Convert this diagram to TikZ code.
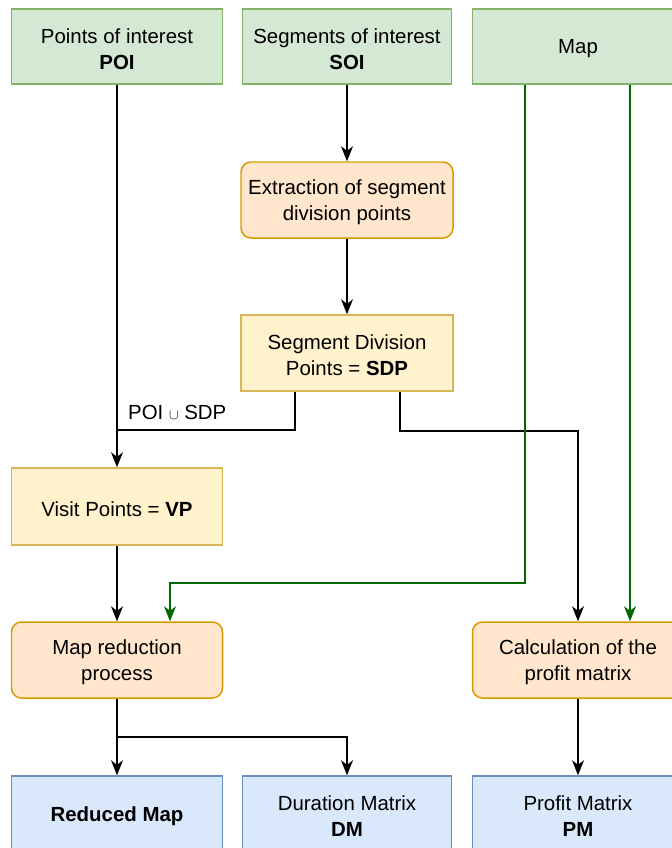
\documentclass[tikz,border=0pt]{standalone}
\usepackage{fontspec}
\setmainfont{Liberation Sans}
\usetikzlibrary{arrows.meta}
\definecolor{grnfill}{HTML}{D5E8D4}\definecolor{grnline}{HTML}{82B366}
\definecolor{orgfill}{HTML}{FFE6CC}\definecolor{orgline}{HTML}{D79B00}
\definecolor{ylwfill}{HTML}{FFF2CC}\definecolor{ylwline}{HTML}{D6B656}
\definecolor{blufill}{HTML}{DAE8FC}\definecolor{bluline}{HTML}{6C8EBF}
\definecolor{darkgrn}{HTML}{006600}
\begin{document}
\begin{tikzpicture}[x=1bp,y=-1bp,
  txt/.style={align=center,inner sep=0pt,yshift=-2.5bp,font=\fontsize{20.5}{26}\selectfont},
  box/.style={draw,line width=1.5pt,minimum width=211bp,minimum height=75bp,
    inner sep=0pt,label={[txt]center:#1}},
  inbox/.style={box={#1},fill=grnfill,draw=grnline},
  stepbox/.style={box={#1},fill=orgfill,draw=orgline,rounded corners=10pt,minimum height=76bp},
  databox/.style={box={#1},fill=ylwfill,draw=ylwline,minimum height=76bp},
  outbox/.style={box={#1},fill=blufill,draw=bluline},
  tip/.style={-{Stealth[length=15pt,width=12pt,inset=4.5pt]}},
  arr/.style={line width=1.7pt,tip},
  garr/.style={arr,draw=darkgrn},
  lnk/.style={line width=1.7pt}]
\useasboundingbox (0,0) rectangle (672,848);
\clip (0,0) rectangle (672,848);

% inputs
\node[inbox={Points of interest\\\textbf{POI}}] (poi) at (117,46.5) {};
\node[inbox={Segments of interest\\\textbf{SOI}},minimum width=209bp] (soi) at (347,46.5) {};
\node[inbox={Map}] (map) at (578,46.5) {};

% processing
\node[stepbox={Extraction of segment\\division points},minimum width=212bp] (ext) at (347,200) {};
\node[databox={Segment Division\\Points = \textbf{SDP}},minimum width=212bp] (sdp) at (347,353) {};
\node[databox={Visit Points = \textbf{VP}},minimum height=77bp] (vp) at (117,506.5) {};
\node[stepbox={Map reduction\\process}] (mred) at (117,660) {};
\node[stepbox={Calculation of the\\profit matrix}] (calc) at (578,660) {};

% outputs
\node[outbox={\textbf{Reduced Map}}] (rmap) at (117,813.5) {};
\node[outbox={Duration Matrix\\\textbf{DM}},minimum width=209bp] (dm) at (347,813.5) {};
\node[outbox={Profit Matrix\\\textbf{PM}}] (pm) at (578,813.5) {};

% junction points
\coordinate (j1) at (117,430);
\coordinate (j2) at (117,737);
\coordinate (gbend) at (170,583);

% black flow
\draw[arr] (poi.south) -- (vp.north);
\draw[arr] (soi.south) -- (soi.south |- ext.north);
\draw[arr] (ext.south) -- (sdp.north);
\draw[lnk] ([xshift=-52bp]sdp.south) |- (j1);
\node[anchor=west,inner sep=0pt,font=\fontsize{20.5}{26}\selectfont] (lbl) at (128,412)
  {POI {\fontsize{14}{14}\selectfont$\cup$} SDP};
\draw[arr] ([xshift=53bp]sdp.south) -- ++(0,39) -| (calc.north);
\draw[arr] (vp.south) -- (mred.north);
\draw[arr] (mred.south) -- (rmap.north);
\draw[arr] (j2) -| (dm.north);
\draw[arr] (calc.south) -- (pm.north);

% map feeds
\draw[garr] ([xshift=-53bp]map.south) |- (gbend) -- (mred.north -| gbend);
\draw[garr] ([xshift=52bp]map.south) -- ([xshift=52bp]calc.north);
\end{tikzpicture}
\end{document}
